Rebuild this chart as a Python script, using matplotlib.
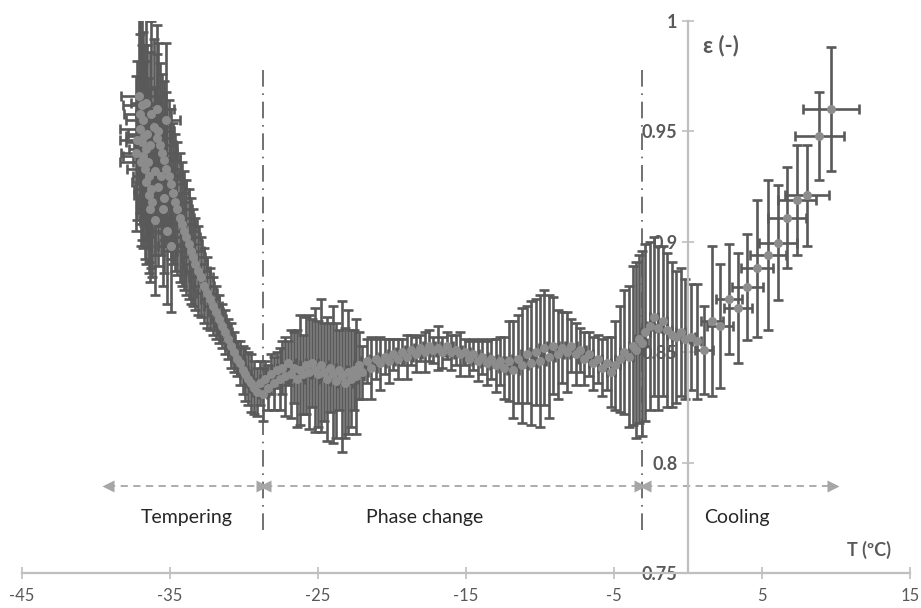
import matplotlib
matplotlib.use("Agg")
import matplotlib.pyplot as plt

plt.rcParams['font.family'] = ['Lato', 'DejaVu Sans']
plt.rcParams['axes.unicode_minus'] = False

# ---- data ----------------------------------------------------------------
# tempering zone: left cluster, right branch, and a few points in between
temp_T = [-37.1, -36.9, -37.0, -36.8, -37.05, -36.75, -36.9, -36.6, -36.85, -36.5,
          -36.7, -36.4, -36.6, -36.3, -36.45, -36.2, -36.35, -36.55, -36.95, -37.2,
          -36.65, -36.35,
          -36.1, -35.9, -35.7, -35.55, -35.4, -35.25, -35.1, -34.95, -34.8, -34.65,
          -34.5, -34.35, -34.2, -34.05, -33.9, -33.75, -33.6, -33.45, -33.3, -33.1,
          -32.9, -32.7, -32.5, -32.3, -32.1, -31.9, -31.7, -31.5, -31.3, -31.1,
          -30.9, -30.7, -30.5, -30.3, -30.1, -29.9, -29.7, -29.5, -29.3, -29.1,
          -35.8, -35.5, -35.2, -34.9, -36.0, -35.3, -35.9,
          -36.3, -35.8, -35.6, -37.3, -36.0, -35.4]
temp_eps = [0.966, 0.962, 0.958, 0.955, 0.951, 0.948, 0.945, 0.942, 0.939, 0.936,
            0.933, 0.930, 0.927, 0.924, 0.921, 0.918, 0.915, 0.949, 0.936, 0.946,
            0.963, 0.944,
            0.952, 0.947, 0.944, 0.940, 0.937, 0.933, 0.930, 0.926, 0.922, 0.918,
            0.915, 0.911, 0.908, 0.905, 0.902, 0.899, 0.896, 0.893, 0.890, 0.887,
            0.884, 0.880, 0.877, 0.874, 0.871, 0.868, 0.865, 0.862, 0.859, 0.856,
            0.853, 0.850, 0.847, 0.845, 0.842, 0.840, 0.838, 0.836, 0.834, 0.832,
            0.925, 0.915, 0.905, 0.898, 0.932, 0.955, 0.960,
            0.958, 0.950, 0.930, 0.940, 0.910, 0.920]
temp_xerr = [1.2, 1.3, 1.1, 1.2, 1.3, 1.2, 1.1, 1.2, 1.3, 1.0,
             1.2, 1.1, 1.0, 1.1, 1.0, 1.0, 0.9, 1.3, 1.4, 1.2,
             1.0, 1.1,
             1.1, 1.0, 1.1, 1.0, 1.1, 1.0, 1.0, 1.0, 1.1, 1.0,
             1.0, 1.0, 1.0, 1.0, 0.9, 0.9, 0.9, 0.8, 0.8, 0.8,
             0.8, 0.7, 0.7, 0.6, 0.6, 0.5, 0.5, 0.5, 0.5, 0.5,
             0.4, 0.4, 0.4, 0.4, 0.4, 0.4, 0.3, 0.3, 0.3, 0.3,
             1.0, 1.1, 1.0, 0.9, 1.2, 1.0, 1.2,
             1.0, 1.1, 1.2, 1.0, 1.0, 1.0]
temp_yerr = [0.040, 0.042, 0.045, 0.040, 0.043, 0.041, 0.044, 0.040, 0.042, 0.038,
             0.041, 0.039, 0.037, 0.036, 0.035, 0.034, 0.033, 0.040, 0.038, 0.036,
             0.040, 0.042,
             0.040, 0.038, 0.037, 0.036, 0.036, 0.035, 0.034, 0.034, 0.032, 0.031,
             0.030, 0.029, 0.028, 0.027, 0.026, 0.025, 0.024, 0.022, 0.021, 0.020,
             0.018, 0.017, 0.016, 0.014, 0.013, 0.012, 0.011, 0.010, 0.010, 0.009,
             0.010, 0.009, 0.008, 0.010, 0.011, 0.012, 0.012, 0.013, 0.012, 0.011,
             0.036, 0.035, 0.033, 0.030, 0.038, 0.035, 0.038,
             0.042, 0.040, 0.036, 0.035, 0.034, 0.034]

# phase change zone
phase_T = [-28.9, -28.75, -28.6, -28.4, -28.2, -28.0, -27.8, -27.6, -27.4, -27.2,
           -27.0, -26.8, -26.6, -26.4, -26.2, -26.0, -25.8, -25.6, -25.4, -25.2,
           -25.0, -24.8, -24.6, -24.4, -24.2, -24.0, -23.8, -23.6, -23.4, -23.2,
           -23.0, -22.8, -22.6, -22.4, -22.2, -22.0, -21.7, -21.4, -21.1, -20.8,
           -20.5, -20.2, -19.9, -19.6, -19.3, -19.0, -18.7, -18.4, -18.1, -17.8,
           -17.5, -17.2, -16.9, -16.6, -16.3, -16.0, -15.7, -15.4, -15.1, -14.8,
           -14.5, -14.2, -13.9, -13.6, -13.3, -13.0, -12.7, -12.4, -12.1, -11.8,
           -11.5, -11.2, -10.9, -10.6, -10.3, -10.0, -9.7, -9.4, -9.1, -8.8,
           -8.5, -8.2, -7.9, -7.6, -7.3, -7.0, -6.7, -6.4, -6.1, -5.8,
           -5.5, -5.2, -4.9, -4.6, -4.3, -4.0, -3.7, -3.5, -3.3, -3.1, -2.9]
phase_eps = [0.836, 0.831, 0.838, 0.834, 0.840, 0.836, 0.842, 0.838, 0.843, 0.839,
             0.845, 0.840, 0.843, 0.838, 0.842, 0.840, 0.844, 0.841, 0.845, 0.842,
             0.840, 0.844, 0.841, 0.838, 0.843, 0.840, 0.837, 0.842, 0.839, 0.836,
             0.841, 0.838, 0.842, 0.839, 0.844, 0.841, 0.846, 0.843, 0.847, 0.845,
             0.848, 0.846, 0.849, 0.847, 0.850, 0.848, 0.851, 0.849, 0.852, 0.850,
             0.853, 0.851, 0.852, 0.850, 0.853, 0.850, 0.851, 0.849, 0.850, 0.847,
             0.849, 0.846, 0.848, 0.845, 0.847, 0.844, 0.846, 0.843, 0.846, 0.842,
             0.847, 0.844, 0.849, 0.845, 0.850, 0.846, 0.852, 0.848, 0.853, 0.849,
             0.852, 0.850, 0.853, 0.849, 0.851, 0.847, 0.849, 0.845, 0.847, 0.843,
             0.845, 0.841, 0.844, 0.847, 0.850, 0.848, 0.853, 0.851, 0.856, 0.854, 0.859]
phase_xerr = [0.3, 0.3, 0.3, 0.4, 0.3, 0.4, 0.4, 0.5, 0.4, 0.4,
              0.5, 0.4, 0.4, 0.5, 0.4, 0.5, 0.4, 0.5, 0.4, 0.5,
              0.4, 0.5, 0.4, 0.5, 0.4, 0.5, 0.4, 0.5, 0.4, 0.5,
              0.4, 0.5, 0.4, 0.5, 0.4, 0.4, 0.4, 0.4, 0.4, 0.4,
              0.4, 0.4, 0.4, 0.4, 0.4, 0.4, 0.4, 0.4, 0.4, 0.4,
              0.4, 0.4, 0.5, 0.4, 0.4, 0.4, 0.4, 0.4, 0.4, 0.4,
              0.4, 0.4, 0.4, 0.4, 0.4, 0.4, 0.4, 0.4, 0.4, 0.4,
              0.4, 0.4, 0.4, 0.4, 0.4, 0.4, 0.4, 0.4, 0.4, 0.4,
              0.4, 0.4, 0.4, 0.4, 0.4, 0.4, 0.3, 0.3, 0.3, 0.3,
              0.3, 0.3, 0.3, 0.3, 0.3, 0.3, 0.3, 0.3, 0.3, 0.3, 0.3]
phase_yerr = [0.010, 0.012, 0.008, 0.010, 0.009, 0.012, 0.008, 0.014, 0.012, 0.018,
              0.010, 0.020, 0.016, 0.022, 0.025, 0.018, 0.022, 0.026, 0.020, 0.028,
              0.024, 0.030, 0.022, 0.028, 0.020, 0.031, 0.026, 0.018, 0.034, 0.025,
              0.028, 0.022, 0.018, 0.026, 0.015, 0.012, 0.010, 0.014, 0.009, 0.012,
              0.008, 0.010, 0.007, 0.009, 0.006, 0.010, 0.007, 0.008, 0.006, 0.009,
              0.007, 0.006, 0.010, 0.007, 0.006, 0.008, 0.007, 0.010, 0.006, 0.008,
              0.007, 0.009, 0.008, 0.010, 0.009, 0.012, 0.011, 0.014, 0.018, 0.022,
              0.020, 0.026, 0.022, 0.028, 0.024, 0.030, 0.026, 0.028, 0.022, 0.020,
              0.016, 0.018, 0.012, 0.014, 0.010, 0.012, 0.010, 0.012, 0.011, 0.013,
              0.012, 0.016, 0.020, 0.024, 0.028, 0.032, 0.036, 0.040, 0.038, 0.042, 0.040]

# transition just after the phase change
trans_T = [-2.6, -2.3, -2.0, -1.7, -1.4, -1.1, -0.8, -0.5, -0.2, 0.2, 0.6]
trans_eps = [0.862, 0.866, 0.861, 0.864, 0.860, 0.858, 0.857, 0.859, 0.856, 0.857, 0.855]
trans_xerr = [0.2, 0.3, 0.2, 0.3, 0.3, 0.3, 0.3, 0.3, 0.3, 0.3, 0.3]
trans_yerr = [0.038, 0.036, 0.037, 0.034, 0.035, 0.033, 0.030, 0.029, 0.027, 0.024, 0.026]

# cooling zone
cool_T = [1.08, 1.62, 2.16, 2.77, 3.38, 3.99, 4.66, 5.41, 6.08, 6.69, 7.36, 8.04, 8.86, 9.66]
cool_eps = [0.851, 0.864, 0.862, 0.874, 0.870, 0.8795, 0.888, 0.894, 0.8995, 0.911,
            0.919, 0.921, 0.948, 0.960]
cool_xerr = [0.64, 0.74, 0.88, 0.88, 0.95, 1.05, 1.08, 1.22, 1.28, 1.28, 1.28, 1.5, 1.65, 1.9]
cool_yerr = [0.020, 0.034, 0.028, 0.025, 0.025, 0.024, 0.031, 0.034, 0.026, 0.023,
             0.025, 0.023, 0.020, 0.028]

zone_names = ["Tempering", "Phase change", "Cooling"]
zone_arrows = [(-39.2, -28.8), (-28.55, -3.25), (-2.9, 9.8)]
zone_label_x = [-33.9, -17.8, 3.3]
zone_limits = [-28.72, -3.1]

x_ticks = [-45, -35, -25, -15, -5, 5, 15]
y_ticks = [0.75, 0.8, 0.85, 0.9, 0.95, 1]
y_ticklabels = ["0.75", "0.8", "0.85", "0.9", "0.95", "1"]

# ---- plot -----------------------------------------------------------------
fig = plt.figure(figsize=(9.21, 6.08), dpi=100)
ax = fig.add_axes([22 / 921, 35 / 608, 888 / 921, 552 / 608])

bar_c = "#595959"
mark_c = "#8c8c8c"
axis_c = "#bfbfbf"

T_all = temp_T + phase_T + trans_T + cool_T
e_all = temp_eps + phase_eps + trans_eps + cool_eps
xe_all = temp_xerr + phase_xerr + trans_xerr + cool_xerr
ye_all = temp_yerr + phase_yerr + trans_yerr + cool_yerr

ax.errorbar(T_all, e_all, xerr=xe_all, yerr=ye_all, fmt="none",
            ecolor=bar_c, elinewidth=1.9, capsize=3.8, capthick=1.9, zorder=2)
ax.plot(T_all, e_all, "o", color=mark_c, ms=6.5, mec="none", zorder=3)

# zone limits
for xl in zone_limits:
    ax.plot([xl, xl], [0.7695, 0.979], color=bar_c, lw=1.2,
            ls=(0, (10, 4, 1, 4)), zorder=1)

# zone arrows and labels
arrow_y = 0.7894
for (x0, x1), name, lx in zip(zone_arrows, zone_names, zone_label_x):
    ax.plot([x0, x1], [arrow_y, arrow_y], color="#a6a6a6", lw=1.3, ls=(0, (4, 3)))
    ax.plot([x0], [arrow_y], marker="<", color="#a6a6a6", ms=8, mec="none")
    ax.plot([x1], [arrow_y], marker=">", color="#a6a6a6", ms=8, mec="none")
    ax.text(lx, 0.775, name, ha="center", va="center", fontsize=14, color="#262626")

ax.text(12.2, 0.7604, "T (ºC)", ha="center", va="center", fontsize=13,
        color="#595959", fontweight="bold")
ax.text(2.25, 0.9887, "ε (-)", ha="center", va="center", fontsize=16,
        color="#595959", fontweight="bold")

# axes styling
ax.set_xlim(-45, 15)
ax.set_ylim(0.75, 1)
ax.spines["top"].set_visible(False)
ax.spines["right"].set_visible(False)
ax.spines["left"].set_position(("data", 0))
for s in ["left", "bottom"]:
    ax.spines[s].set_color(axis_c)
    ax.spines[s].set_linewidth(1.6)
ax.set_axisbelow(True)
ax.set_xticks(x_ticks)
ax.set_yticks(y_ticks)
ax.set_yticklabels(y_ticklabels)
ax.tick_params(axis="both", direction="inout", length=9, width=1.2, color=axis_c)
ax.tick_params(axis="x", labelsize=12, labelcolor="#595959", pad=6)
ax.tick_params(axis="y", labelsize=13, labelcolor="#595959", pad=3)
for lab in ax.get_yticklabels():
    lab.set_fontweight("bold")
ax.patch.set_visible(False)

fig.savefig("out.png", dpi=100)
